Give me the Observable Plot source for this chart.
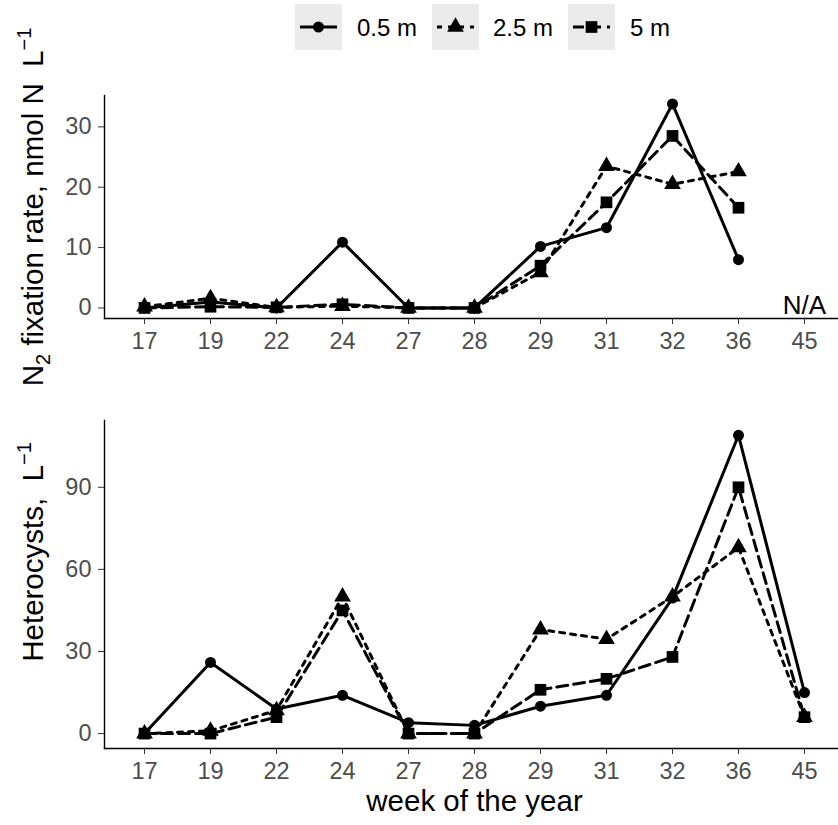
<!DOCTYPE html>
<html><head><meta charset="utf-8">
<script src="https://cdn.jsdelivr.net/npm/d3@7"></script>
<script src="https://cdn.jsdelivr.net/npm/@observablehq/plot@0.6"></script>
<style>
body{margin:0;background:#fff;font-family:"Liberation Sans",Arial,sans-serif;}
#wrap{position:relative;width:838px;height:825px;overflow:hidden;}
#wrap svg.plot{display:block;}
#legend{position:absolute;left:0;top:0;}
</style></head><body><div id="wrap"></div>
<script>
// ---- data ----
const weeks = ["17","19","22","24","27","28","29","31","32","36","45"];
const depths = ["0.5 m","2.5 m","5 m"];
const n2fix_05 = [0, 1.0, 0, 10.9, 0, 0, 10.2, 13.3, 33.8, 8.0, null];
const n2fix_25 = [0.2, 1.6, 0.1, 0.3, 0, 0, 5.9, 23.5, 20.5, 22.6, null];
const n2fix_5  = [0, 0.2, 0.1, 0.6, 0, 0, 7.0, 17.5, 28.5, 16.6, null];
const het_05 = [0, 26, 9, 14, 4, 3, 10, 14, 49.5, 109, 15];
const het_25 = [0, 1, 8.5, 50, 0, 0, 38, 34.5, 50, 68, 6];
const het_5  = [0, 0, 6, 45, 0, 0, 16, 20, 28, 90, 6];
const n2Ticks = [0, 10, 20, 30];
const hetTicks = [0, 30, 60, 90];
const naWeek = ["45"], naValue = [0], naLabel = ["N/A"];

// ---- styles ----
const FONT = "Liberation Sans, Arial, sans-serif";
const dash = {"0.5 m": null, "2.5 m": "5,6", "5 m": "11,6"};
const sym = {"0.5 m": "circle", "2.5 m": "triangle", "5 m": "square"};
const rad = {"0.5 m": 5.5, "2.5 m": 6.2, "5 m": 6.6};

function rows(vals, depth) {
  return weeks.map((w, i) => ({week: w, value: vals[i], depth})).filter(d => d.value != null);
}

function panel({series, yDomain, yTicks, height, marginTop, marginBottom, extra = []}) {
  const lineMarks = series.map(s => Plot.line(s.data, {x: "week", y: "value", stroke: "black", strokeWidth: 3, strokeDasharray: dash[s.depth], strokeLinejoin: "round"}));
  const dotMarks = series.map(s => Plot.dot(s.data, {x: "week", y: "value", symbol: sym[s.depth], r: rad[s.depth], fill: "black", stroke: "none"}));
  const p = Plot.plot({
    width: 838, height, marginLeft: 104, marginRight: 0, marginTop, marginBottom,
    style: {fontFamily: FONT, background: "white", overflow: "visible"},
    x: {type: "point", domain: weeks, range: [143, 805], padding: 0},
    y: {domain: yDomain},
    marks: [
      Plot.frame({anchor: "left", stroke: "black", strokeWidth: 1.4}),
      Plot.frame({anchor: "bottom", stroke: "black", strokeWidth: 1.4}),
      Plot.axisY({ticks: yTicks, tickSize: 6, tickPadding: 7, fontSize: 23.5, stroke: "#333", fill: "#4D4D4D", label: null, tickFormat: d => d}),
      Plot.axisX({tickSize: 6, tickPadding: 8, fontSize: 23.5, stroke: "#333", fill: "#4D4D4D", label: null}),
      ...lineMarks, ...dotMarks, ...extra
    ]
  });
  p.classList.add("plot");
  return p;
}

const wrap = document.getElementById("wrap");

const topPlot = panel({
  series: [{depth: depths[0], data: rows(n2fix_05, depths[0])}, {depth: depths[1], data: rows(n2fix_25, depths[1])}, {depth: depths[2], data: rows(n2fix_5, depths[2])}],
  yDomain: [-1.75, 35.2], yTicks: n2Ticks, height: 400, marginTop: 95, marginBottom: 82,
  extra: [Plot.text(naWeek.map((w, i) => ({week: w, value: naValue[i], label: naLabel[i]})), {x: "week", y: "value", text: "label", fontSize: 26, lineAnchor: "bottom", dy: 6, fill: "black"})]
});
wrap.appendChild(topPlot);

const bottomPlot = panel({
  series: [{depth: depths[0], data: rows(het_05, depths[0])}, {depth: depths[1], data: rows(het_25, depths[1])}, {depth: depths[2], data: rows(het_5, depths[2])}],
  yDomain: [-5.45, 114.4], yTicks: hetTicks, height: 425, marginTop: 20, marginBottom: 77
});
wrap.appendChild(bottomPlot);

// ---- axis titles with sub/superscripts ----
function yTitle(svg, cy, parts) {
  const t = d3.select(svg).append("text")
    .attr("transform", `translate(43,${cy}) rotate(-90)`)
    .attr("text-anchor", "middle").attr("font-family", FONT).attr("font-size", 29.5).attr("fill", "black");
  let shift = 0;
  for (const [str, kind] of parts) {
    const target = kind === "sub" ? 7 : kind === "sup" ? -12 : 0;
    t.append("tspan").attr("dy", target - shift).attr("font-size", kind ? 20 : 29.5).text(str);
    shift = target;
  }
}
yTitle(topPlot, 207, [["N"], ["2", "sub"], [" fixation rate, nmol N\u00a0\u00a0L"], ["\u22121", "sup"]]);
yTitle(bottomPlot, 152, [["Heterocysts,\u00a0\u00a0L"], ["\u22121", "sup"]]);
d3.select(bottomPlot).append("text").attr("x", 474.5).attr("y", 411).attr("text-anchor", "middle")
  .attr("font-family", FONT).attr("font-size", 29.5).attr("fill", "black").text("week of the year");

// ---- legend ----
const lg = d3.select(wrap).append("svg").attr("id", "legend").attr("width", 838).attr("height", 56);
const keyX = [295, 432, 568], textX = [357, 493, 630];
depths.forEach((d, i) => {
  const g = lg.append("g").attr("transform", `translate(${keyX[i]},4)`);
  g.append("rect").attr("width", 47).attr("height", 46).attr("fill", "#EBEBEB");
  g.append("line").attr("x1", 5).attr("x2", 42).attr("y1", 23).attr("y2", 23).attr("stroke", "black").attr("stroke-width", 3)
    .attr("stroke-dasharray", dash[d] || null);
  const s = d3.symbol().type(sym[d] === "circle" ? d3.symbolCircle : sym[d] === "triangle" ? d3.symbolTriangle : d3.symbolSquare).size(Math.PI * rad[d] * rad[d]);
  g.append("path").attr("d", s()).attr("transform", "translate(23.5,23)").attr("fill", "black");
  lg.append("text").attr("x", textX[i]).attr("y", 36).attr("font-family", FONT).attr("font-size", 24).attr("fill", "black").text(d);
});
</script></body></html>
